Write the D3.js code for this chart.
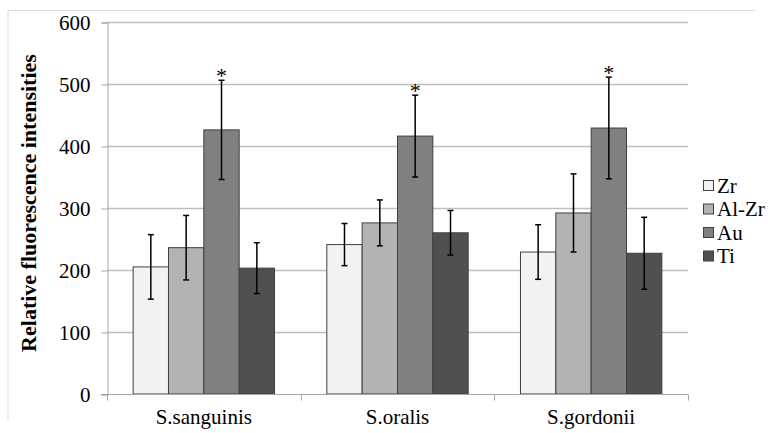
<!DOCTYPE html>
<html>
<head>
<meta charset="utf-8">
<script src="https://cdn.jsdelivr.net/npm/d3@7/dist/d3.min.js"></script>
<style>
  body { margin: 0; background: #fff; }
</style>
</head>
<body>
<svg id="chart" width="768" height="433"></svg>
<script>
var categories = ["S.sanguinis", "S.oralis", "S.gordonii"];
var seriesNames = ["Zr", "Al-Zr", "Au", "Ti"];
var seriesColors = ["#f2f2f2", "#b3b3b3", "#808080", "#505050"];
// values per series, in category order
var zrValues = [205, 241, 229];
var alzrValues = [236, 276, 292];
var auValues = [426, 416, 429];
var tiValues = [203, 260, 227];
// error bar half widths
var zrErrors = [52, 34, 44];
var alzrErrors = [52, 37, 63];
var auErrors = [80, 66, 82];
var tiErrors = [41, 36, 58];
var starSeries = "Au";
var yTicks = [0, 100, 200, 300, 400, 500, 600];

var allValues = [zrValues, alzrValues, auValues, tiValues];
var allErrors = [zrErrors, alzrErrors, auErrors, tiErrors];
var FONT = "Liberation Serif";

var svg = d3.select("#chart");
var plot = { left: 107, right: 688, top: 22, bottom: 394 };

// light chart frame
svg.append("path")
  .attr("d", "M8,420V10.5H755")
  .attr("fill", "none")
  .attr("stroke", "#d9d9d9")
  .attr("stroke-width", 1);

var x0 = d3.scaleBand().domain(categories).range([plot.left, plot.right]).paddingInner(0.27).paddingOuter(0.135);
var x1 = d3.scaleBand().domain(seriesNames).range([0, x0.bandwidth()]);
var y = d3.scaleLinear().domain([0, 600]).range([plot.bottom, plot.top]);

// gridlines
svg.append("g").selectAll("line").data(yTicks.filter(function (t) { return t > 0; })).join("line")
  .attr("x1", plot.left).attr("x2", plot.right)
  .attr("y1", function (t) { return Math.round(y(t)) + 0.5; })
  .attr("y2", function (t) { return Math.round(y(t)) + 0.5; })
  .attr("stroke", "#bfbfbf").attr("stroke-width", 1.5);

// y axis
var yAxis = svg.append("g")
  .attr("transform", "translate(" + (plot.left + 0.5) + ",0.5)")
  .call(d3.axisLeft(y).tickValues(yTicks).tickSize(6).tickPadding(11));
yAxis.attr("font-family", FONT).attr("font-size", 21);
yAxis.select(".domain").attr("stroke", "#a6a6a6");
yAxis.selectAll(".tick line").attr("stroke", "#a6a6a6");
yAxis.selectAll(".tick text").attr("fill", "#000").style("font-family", FONT).style("font-size", "21px");

// bars
var groups = svg.append("g").selectAll("g").data(categories).join("g")
  .attr("transform", function (c) { return "translate(" + x0(c) + ",0)"; });

groups.selectAll("rect").data(function (c, ci) {
  return seriesNames.map(function (s, si) {
    return { series: s, si: si, value: allValues[si][ci], err: allErrors[si][ci] };
  });
}).join("rect")
  .attr("x", function (d) { return x1(d.series); })
  .attr("y", function (d) { return y(d.value); })
  .attr("width", x1.bandwidth())
  .attr("height", function (d) { return y(0) - y(d.value); })
  .attr("fill", function (d) { return seriesColors[d.si]; })
  .attr("stroke", "#404040").attr("stroke-width", 1);

// error bars
var errs = groups.selectAll("g.err").data(function (c, ci) {
  return seriesNames.map(function (s, si) {
    return { series: s, value: allValues[si][ci], err: allErrors[si][ci] };
  });
}).join("g").attr("class", "err")
  .attr("transform", function (d) { return "translate(" + (x1(d.series) + x1.bandwidth() / 2) + ",0)"; });
errs.append("line")
  .attr("y1", function (d) { return y(d.value + d.err); })
  .attr("y2", function (d) { return y(d.value - d.err); })
  .attr("stroke", "#000").attr("stroke-width", 1.5);
errs.selectAll("line.cap").data(function (d) { return [d.value + d.err, d.value - d.err]; }).join("line")
  .attr("class", "cap")
  .attr("x1", -3).attr("x2", 3)
  .attr("y1", function (v) { return y(v); }).attr("y2", function (v) { return y(v); })
  .attr("stroke", "#000").attr("stroke-width", 1.5);
errs.filter(function (d) { return d.series === starSeries; }).append("text")
  .attr("y", function (d) { return y(d.value + d.err) + 3; })
  .attr("text-anchor", "middle")
  .style("font-family", FONT).style("font-size", "22px")
  .text("*");

// x axis
var xAxis = svg.append("g")
  .attr("transform", "translate(0," + (plot.bottom + 0.5) + ")");
xAxis.append("line").attr("x1", plot.left - 6).attr("x2", plot.right).attr("stroke", "#a6a6a6");
var xEdges = categories.map(function (c) { return x0(c) - x0.step() * x0.paddingInner() / 2; }).concat([plot.right]);
xAxis.selectAll("line.tk").data(xEdges).join("line").attr("class", "tk")
  .attr("x1", function (v) { return Math.round(v) + 0.5; }).attr("x2", function (v) { return Math.round(v) + 0.5; })
  .attr("y1", 0).attr("y2", 6).attr("stroke", "#a6a6a6");
xAxis.selectAll("text").data(categories).join("text")
  .attr("x", function (c) { return x0(c) + x0.bandwidth() / 2; })
  .attr("y", 29)
  .attr("text-anchor", "middle")
  .style("font-family", FONT).style("font-size", "21px")
  .text(function (c) { return c; });

// y title
svg.append("text")
  .attr("transform", "translate(36,203) rotate(-90)")
  .attr("text-anchor", "middle")
  .style("font-family", FONT).style("font-size", "22px").style("font-weight", "bold")
  .text("Relative fluorescence intensities");

// legend
var legend = svg.append("g").attr("transform", "translate(703,186)");
var rows = legend.selectAll("g").data(seriesNames).join("g")
  .attr("transform", function (s, i) { return "translate(0," + (i * 23.5) + ")"; });
rows.append("rect")
  .attr("x", 0.5).attr("y", -5.5).attr("width", 10).attr("height", 10)
  .attr("fill", function (s, i) { return seriesColors[i]; })
  .attr("stroke", "#404040").attr("stroke-width", 1);
rows.append("text")
  .attr("x", 14).attr("y", 6.5)
  .style("font-family", FONT).style("font-size", "21px")
  .text(function (s) { return s; });
</script>
</body>
</html>
